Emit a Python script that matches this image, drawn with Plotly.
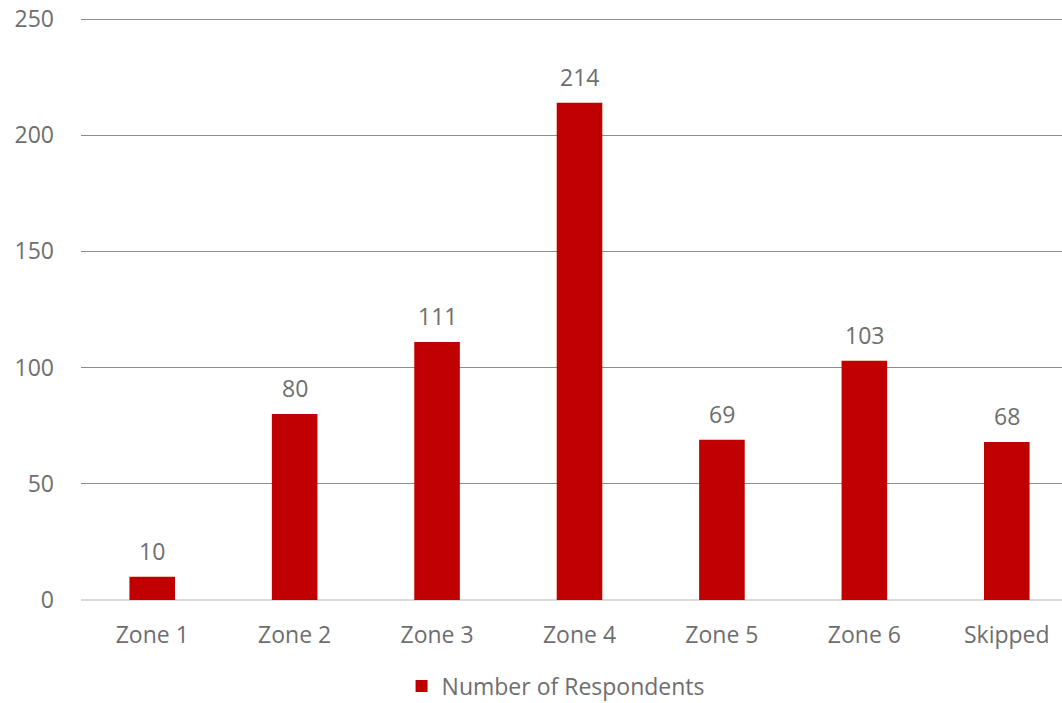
import plotly.graph_objects as go

categories = ["Zone 1", "Zone 2", "Zone 3", "Zone 4", "Zone 5", "Zone 6", "Skipped"]
respondents = [10, 80, 111, 214, 69, 103, 68]
series_name = "Number of Respondents"
y_ticks = [0, 50, 100, 150, 200, 250]

FONT = "Open Sans, Liberation Sans, sans-serif"
TXT = "#6e6e6e"
FS = 23

fig = go.Figure()
fig.add_trace(go.Bar(
    x=categories, y=respondents, name=series_name,
    marker=dict(color="#C00000", line=dict(width=0)),
    cliponaxis=False, showlegend=True,
))
for c, v in zip(categories, respondents):
    fig.add_annotation(x=c, y=v, text=str(v), showarrow=False, yanchor="bottom",
                       yshift=8, font=dict(size=FS, color=TXT, family=FONT))
fig.update_layout(
    width=1078, height=703,
    margin=dict(l=81, r=0, t=17, b=103, autoexpand=False),
    paper_bgcolor="white", plot_bgcolor="white",
    font=dict(family=FONT, size=FS, color=TXT),
    bargap=0.68,
    xaxis=dict(showgrid=False, showline=False, ticks="", ticklabelstandoff=19,
               automargin=False, tickfont=dict(size=FS, color=TXT)),
    yaxis=dict(range=[0, 250.86], tickvals=y_ticks, showgrid=True, gridcolor="#8c8c8c",
               gridwidth=1, zeroline=True, zerolinecolor="#d9d9d9", zerolinewidth=1.5,
               showline=False, ticks="", ticklabelstandoff=26, automargin=False,
               tickfont=dict(size=FS, color=TXT)),
    legend=dict(orientation="h", x=0.476, xanchor="center", y=0.024, yanchor="middle",
                yref="container", font=dict(size=FS, color=TXT), itemwidth=30),
    showlegend=True,
)
fig.write_html("out.html", config={"displayModeBar": False},
               post_script="document.body.style.margin='0';document.body.style.overflow='hidden';")
